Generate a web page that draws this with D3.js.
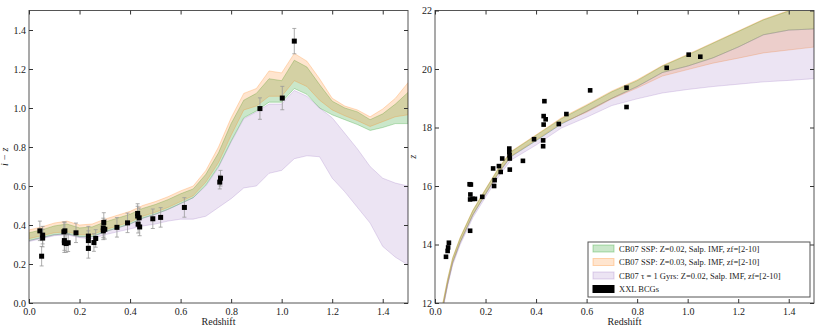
<!DOCTYPE html>
<html>
<head>
<meta charset="utf-8">
<script src="https://cdn.jsdelivr.net/npm/d3@7"></script>
<style>
    body { margin: 0; background: #fff; }
    svg text { font-family: "Liberation Serif", "DejaVu Serif", serif; fill: #222; }
</style>
</head>
<body>
<div id="chart"></div>
<script>
// ---- left panel: i - z colour tracks ----
var zGridL = [0, 0.05, 0.1, 0.15, 0.2, 0.25, 0.3, 0.35, 0.4, 0.45, 0.5, 0.55, 0.6, 0.65, 0.7, 0.75,
    0.8, 0.85, 0.9, 0.95, 1.0, 1.05, 1.1, 1.15, 1.2, 1.25, 1.3, 1.35, 1.4, 1.45, 1.5];
var sspZ02HiL = [0.36, 0.375, 0.395, 0.405, 0.385, 0.39, 0.415, 0.435, 0.455, 0.485, 0.505, 0.53, 0.56, 0.585, 0.66, 0.77,
    0.92, 1.04, 1.075, 1.15, 1.14, 1.245, 1.21, 1.12, 1.035, 1.0, 0.98, 0.94, 0.97, 1.02, 1.08];
var sspZ02LoL = [0.32, 0.335, 0.35, 0.355, 0.34, 0.34, 0.365, 0.385, 0.405, 0.435, 0.455, 0.48, 0.51, 0.54, 0.605, 0.70,
    0.83, 0.95, 0.985, 1.03, 1.03, 1.10, 1.07, 1.00, 0.965, 0.94, 0.915, 0.885, 0.90, 0.92, 0.92];
var sspZ03HiL = [0.375, 0.39, 0.41, 0.42, 0.40, 0.405, 0.43, 0.45, 0.47, 0.50, 0.52, 0.545, 0.575, 0.60, 0.68, 0.80,
    0.95, 1.075, 1.10, 1.19, 1.18, 1.28, 1.24, 1.15, 1.05, 1.01, 0.99, 0.955, 0.995, 1.05, 1.13];
var sspZ03LoL = [0.33, 0.345, 0.36, 0.365, 0.35, 0.35, 0.375, 0.395, 0.415, 0.445, 0.465, 0.49, 0.52, 0.55, 0.62, 0.72,
    0.86, 0.99, 1.01, 1.06, 1.06, 1.14, 1.11, 1.04, 0.99, 0.96, 0.935, 0.905, 0.93, 0.955, 0.965];
var tauHiL = [0.32, 0.335, 0.35, 0.355, 0.34, 0.34, 0.365, 0.385, 0.405, 0.435, 0.455, 0.48, 0.51, 0.54, 0.60, 0.695,
    0.825, 0.945, 0.98, 1.02, 1.02, 1.09, 1.06, 1.00, 0.95, 0.87, 0.79, 0.70, 0.64, 0.615, 0.60];
var tauLoL = [0.315, 0.33, 0.345, 0.35, 0.335, 0.33, 0.35, 0.365, 0.38, 0.395, 0.405, 0.42, 0.43, 0.43, 0.445, 0.49,
    0.535, 0.59, 0.60, 0.665, 0.68, 0.74, 0.755, 0.75, 0.64, 0.57, 0.49, 0.41, 0.29, 0.235, 0.195];

// BCG colours with errors
var bcgZL = [0.043, 0.05, 0.054, 0.054, 0.138, 0.142, 0.14, 0.14, 0.147, 0.155, 0.186, 0.235, 0.235, 0.235,
    0.257, 0.264, 0.296, 0.294, 0.294, 0.30, 0.348, 0.39, 0.43, 0.43, 0.432, 0.436, 0.438, 0.49, 0.521,
    0.615, 0.755, 0.758, 0.914, 1.0025, 1.05];
var bcgIZ = [0.37, 0.24, 0.348, 0.333, 0.365, 0.37, 0.32, 0.309, 0.305, 0.309, 0.36, 0.343, 0.32, 0.28,
    0.31, 0.331, 0.413, 0.385, 0.37, 0.378, 0.388, 0.411, 0.459, 0.446, 0.404, 0.437, 0.39, 0.432, 0.439,
    0.49, 0.62, 0.64, 0.997, 1.051, 1.343];
var bcgIZErr = [0.05, 0.05, 0.045, 0.045, 0.05, 0.045, 0.05, 0.05, 0.045, 0.045, 0.05, 0.05, 0.05, 0.05,
    0.045, 0.045, 0.05, 0.05, 0.045, 0.05, 0.05, 0.05, 0.05, 0.05, 0.045, 0.05, 0.045, 0.05, 0.05,
    0.05, 0.035, 0.04, 0.055, 0.06, 0.065];

// ---- right panel: z magnitude tracks ----
var zGridR = [0.03, 0.05, 0.07, 0.1, 0.15, 0.2, 0.25, 0.3, 0.4, 0.5, 0.6, 0.7, 0.8, 0.9, 1.0, 1.1, 1.2, 1.3, 1.4, 1.5];
var sspZ02HiR = [11.93, 12.8, 13.53, 14.23, 15.16, 15.88, 16.58, 17.16, 17.73, 18.3, 18.75, 19.22, 19.6, 20.1, 20.48, 20.88, 21.28, 21.68, 21.98, 22.28];
var sspZ02LoR = [11.78, 12.65, 13.38, 14.08, 15.01, 15.72, 16.42, 17.0, 17.55, 18.12, 18.55, 19.0, 19.4, 19.88, 20.1, 20.38, 20.75, 21.17, 21.33, 21.37];
var sspZ03HiR = [11.95, 12.82, 13.55, 14.25, 15.18, 15.9, 16.6, 17.18, 17.75, 18.33, 18.78, 19.25, 19.63, 20.12, 20.5, 20.9, 21.3, 21.7, 22.0, 22.3];
var sspZ03LoR = [11.8, 12.67, 13.4, 14.1, 15.03, 15.74, 16.44, 17.02, 17.58, 18.15, 18.52, 18.98, 19.35, 19.76, 19.98, 20.2, 20.37, 20.55, 20.65, 20.75];
var tauHiR = [11.78, 12.65, 13.38, 14.08, 15.01, 15.72, 16.42, 17.0, 17.55, 18.12, 18.55, 19.0, 19.4, 19.88, 20.1, 20.38, 20.75, 21.17, 21.33, 21.37];
var tauLoR = [11.72, 12.58, 13.3, 14.0, 14.92, 15.62, 16.3, 16.88, 17.4, 17.98, 18.35, 18.75, 18.98, 19.18, 19.3, 19.4, 19.48, 19.56, 19.61, 19.67];

// BCG z-band magnitudes
var bcgZR = [0.0435, 0.05, 0.052, 0.055, 0.139, 0.137, 0.142, 0.14, 0.139, 0.149, 0.158, 0.187, 0.234, 0.236,
    0.23, 0.253, 0.26, 0.266, 0.294, 0.294, 0.295, 0.296, 0.296, 0.348, 0.392, 0.428, 0.428, 0.43, 0.43,
    0.438, 0.433, 0.49, 0.52, 0.614, 0.758, 0.758, 0.917, 1.004, 1.05];
var bcgMagZ = [13.58, 13.78, 13.9, 14.06, 14.47, 16.06, 16.05, 15.71, 15.54, 15.56, 15.56, 15.63, 16.0, 16.2,
    16.6, 16.68, 16.48, 16.94, 17.28, 17.16, 17.05, 16.94, 16.56, 16.86, 17.6, 17.56, 17.36, 18.1, 18.39,
    18.28, 18.9, 18.12, 18.46, 19.27, 19.36, 18.7, 20.04, 20.49, 20.42];

var xTicks = [0, 0.2, 0.4, 0.6, 0.8, 1.0, 1.2, 1.4];
var yTicksL = [0, 0.2, 0.4, 0.6, 0.8, 1.0, 1.2, 1.4];
var yTicksR = [12, 14, 16, 18, 20, 22];

var legendLabels = ["CB07 SSP: Z=0.02, Salp. IMF, zf=[2-10]",
    "CB07 SSP: Z=0.03, Salp. IMF, zf=[2-10]",
    "CB07 \u03c4 = 1 Gyrs: Z=0.02, Salp. IMF, zf=[2-10]",
    "XXL BCGs"];

// constants
var width = 822, height = 329,
    plotTop = 10.5, plotBottom = 303,
    greenC = "#2ca02c", orangeC = "#ff7f0e", purpleC = "#9467bd",
    bandOps = [0.25, 0.2, 0.18];

var svg = d3.select("#chart").append("svg")
    .attr("width", width)
    .attr("height", height);

function zip(zs, lo, hi) {
    return zs.map(function (z, i) { return {z: z, lo: lo[i], hi: hi[i]}; });
}

function panel(id, x0, x1, yDomain, yTicks, yFmt, yLabel, yLabelX) {
    var x = d3.scaleLinear().domain([0, 1.5]).range([x0, x1]);
    var y = d3.scaleLinear().domain(yDomain).range([plotBottom, plotTop]);

    svg.append("clipPath").attr("id", id)
        .append("rect").attr("x", x0).attr("y", plotTop).attr("width", x1 - x0).attr("height", plotBottom - plotTop);

    var g = svg.append("g");
    var plot = g.append("g").attr("clip-path", "url(#" + id + ")");
    var over = g.append("g");

    // frame
    over.append("rect")
        .attr("x", x0).attr("y", plotTop)
        .attr("width", x1 - x0).attr("height", plotBottom - plotTop)
        .attr("fill", "none").attr("stroke", "#555").attr("stroke-width", 1);

    var axB = over.append("g").attr("transform", "translate(0," + plotBottom + ")")
        .call(d3.axisBottom(x).tickValues(xTicks).tickSizeInner(-4).tickSizeOuter(0).tickPadding(5).tickFormat(d3.format(".1f")));
    var axT = over.append("g").attr("transform", "translate(0," + plotTop + ")")
        .call(d3.axisTop(x).tickValues(xTicks).tickSizeInner(-4).tickSizeOuter(0).tickFormat(""));
    var axL = over.append("g").attr("transform", "translate(" + x0 + ",0)")
        .call(d3.axisLeft(y).tickValues(yTicks).tickSizeInner(-4).tickSizeOuter(0).tickPadding(3).tickFormat(yFmt));
    var axR = over.append("g").attr("transform", "translate(" + x1 + ",0)")
        .call(d3.axisRight(y).tickValues(yTicks).tickSizeInner(-4).tickSizeOuter(0).tickFormat(""));

    [axB, axT, axL, axR].forEach(function (a) {
        a.select(".domain").remove();
        a.selectAll("line").attr("stroke", "#333");
        a.selectAll("text").style("font-family", "Liberation Serif, serif").attr("font-size", 10).attr("fill", "#333");
    });

    over.append("text")
        .attr("x", (x0 + x1) / 2).attr("y", 325)
        .attr("text-anchor", "middle").attr("font-size", 10)
        .text("Redshift");

    over.append("text")
        .attr("transform", "translate(" + yLabelX + "," + ((plotTop + plotBottom) / 2) + ") rotate(-90)")
        .attr("text-anchor", "middle").attr("font-size", 10).attr("font-style", "italic")
        .text(yLabel);

    return {x: x, y: y, plot: plot};
}

function band(p, data, color, fillOp) {
    var area = d3.area()
        .x(function (d) { return p.x(d.z); })
        .y0(function (d) { return p.y(d.lo); })
        .y1(function (d) { return p.y(d.hi); });
    p.plot.append("path")
        .datum(data)
        .attr("d", area)
        .attr("fill", color)
        .attr("fill-opacity", fillOp)
        .attr("stroke", color)
        .attr("stroke-opacity", fillOp + 0.05)
        .attr("stroke-width", 1);
}

// left panel
var pL = panel("clipL", 29, 408, [0, 1.5], yTicksL, d3.format(".1f"), "i \u2212 z", 8);
band(pL, zip(zGridL, sspZ02LoL, sspZ02HiL), greenC, bandOps[0]);
band(pL, zip(zGridL, sspZ03LoL, sspZ03HiL), orangeC, bandOps[1]);
band(pL, zip(zGridL, tauLoL, tauHiL), purpleC, bandOps[2]);

var ptsL = bcgZL.map(function (z, i) { return {z: z, v: bcgIZ[i], e: bcgIZErr[i]}; });

var errs = pL.plot.selectAll(".err")
    .data(ptsL)
    .enter()
    .append("g")
    .attr("class", "err")
    .attr("stroke", "#999")
    .attr("stroke-width", 0.8);
errs.append("line")
    .attr("x1", function (d) { return pL.x(d.z); })
    .attr("x2", function (d) { return pL.x(d.z); })
    .attr("y1", function (d) { return pL.y(d.v - d.e); })
    .attr("y2", function (d) { return pL.y(d.v + d.e); });
errs.selectAll(".cap")
    .data(function (d) { return [{z: d.z, v: d.v - d.e}, {z: d.z, v: d.v + d.e}]; })
    .enter()
    .append("line")
    .attr("x1", function (d) { return pL.x(d.z) - 2; })
    .attr("x2", function (d) { return pL.x(d.z) + 2; })
    .attr("y1", function (d) { return pL.y(d.v); })
    .attr("y2", function (d) { return pL.y(d.v); });

pL.plot.selectAll(".ptL")
    .data(ptsL)
    .enter()
    .append("rect")
    .attr("x", function (d) { return pL.x(d.z) - 2.5; })
    .attr("y", function (d) { return pL.y(d.v) - 2.5; })
    .attr("width", 5).attr("height", 5)
    .attr("fill", "#000");

// right panel
var pR = panel("clipR", 435, 814, [12, 22], yTicksR, d3.format("d"), "z", 416);
band(pR, zip(zGridR, sspZ02LoR, sspZ02HiR), greenC, bandOps[0]);
band(pR, zip(zGridR, sspZ03LoR, sspZ03HiR), orangeC, bandOps[1]);
band(pR, zip(zGridR, tauLoR, tauHiR), purpleC, bandOps[2]);

pR.plot.selectAll(".ptR")
    .data(bcgZR)
    .enter()
    .append("rect")
    .attr("x", function (d) { return pR.x(d) - 2.3; })
    .attr("y", function (d, i) { return pR.y(bcgMagZ[i]) - 2.3; })
    .attr("width", 4.6).attr("height", 4.6)
    .attr("fill", "#000");

// legend
var leg = svg.append("g").attr("transform", "translate(588,242)");
leg.append("rect")
    .attr("width", 222).attr("height", 55)
    .attr("fill", "#fff").attr("stroke", "#555").attr("stroke-width", 1);

var legColors = [greenC, orangeC, purpleC, "#000"];
var legOps = [bandOps[0], bandOps[1], bandOps[2], 1];
var rows = leg.selectAll(".row")
    .data(legendLabels)
    .enter()
    .append("g")
    .attr("transform", function (d, i) { return "translate(0," + (6.5 + i * 13.5) + ")"; });
rows.append("rect")
    .attr("x", 5).attr("y", -3.5)
    .attr("width", 21).attr("height", 7)
    .attr("fill", function (d, i) { return legColors[i]; })
    .attr("fill-opacity", function (d, i) { return legOps[i]; })
    .attr("stroke", function (d, i) { return legColors[i]; })
    .attr("stroke-opacity", function (d, i) { return i < 3 ? legOps[i] + 0.1 : 1; });
rows.append("text")
    .attr("x", 31).attr("y", 3)
    .attr("font-size", 8.5)
    .text(function (d) { return d; });
</script>
</body>
</html>
